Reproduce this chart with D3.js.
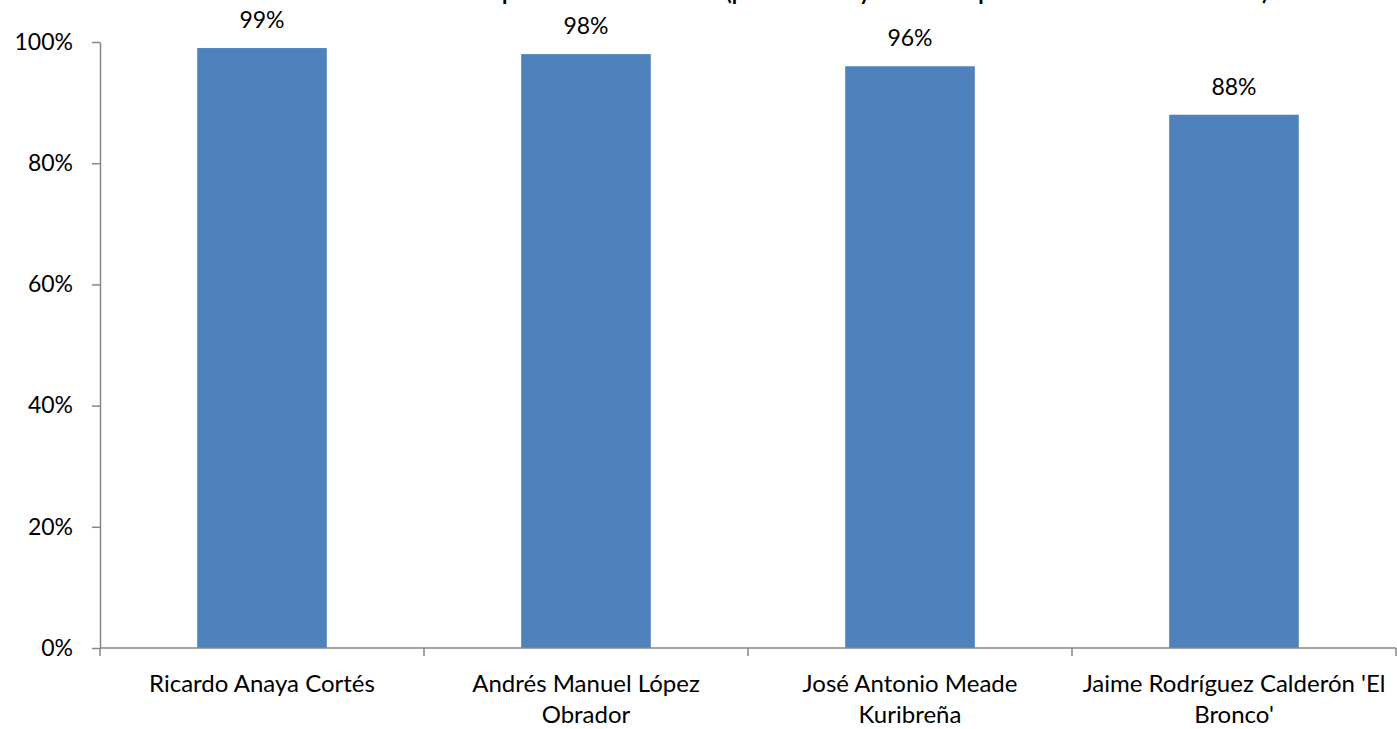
<!DOCTYPE html>
<html>
<head>
<meta charset="utf-8">
<script src="https://cdn.jsdelivr.net/npm/d3@7"></script>
<style>
  html, body { margin: 0; padding: 0; background: #fff; }
  svg { display: block; }
  text { font-family: Lato, "Open Sans", sans-serif; fill: #000; }
</style>
</head>
<body>
<svg id="chart" width="1397" height="729"></svg>
<script>
// ---- data ----
const categories = [
  "Ricardo Anaya Cortés",
  "Andrés Manuel López Obrador",
  "José Antonio Meade Kuribreña",
  "Jaime Rodríguez Calderón 'El Bronco'"
];
const categoryLines = [
  ["Ricardo Anaya Cortés"],
  ["Andrés Manuel López", "Obrador"],
  ["José Antonio Meade", "Kuribreña"],
  ["Jaime Rodríguez Calderón 'El", "Bronco'"]
];
const values = [0.99, 0.98, 0.96, 0.88];
const valueLabels = ["99%", "98%", "96%", "88%"];
const yTicks = [0, 0.2, 0.4, 0.6, 0.8, 1.0];
const yTickLabels = ["0%", "20%", "40%", "60%", "80%", "100%"];
const title = "Reconocimiento de candidatos a la presidencia de México (por votantes y el total de personas del electorado local)";

// ---- layout ----
const svg = d3.select("#chart");
const plotLeft = 100, plotRight = 1396, plotTop = 42, plotBottom = 648;
const axisColor = "#868686";
const barColor = "#4F81BD";

const x = d3.scaleBand()
  .domain(categories)
  .range([plotLeft, plotRight])
  .paddingInner(0.6)
  .paddingOuter(0.3);
const step = x.step();
const y = d3.scaleLinear().domain([0, 1]).range([plotBottom, plotTop]);

// title (cut off at top in the reference)
svg.append("text")
  .attr("x", 1268)
  .attr("y", 0)
  .attr("text-anchor", "end")
  .style("font-weight", "bold")
  .style("font-size", "22px")
  .text(title);

// bars
svg.selectAll("rect.bar")
  .data(values)
  .enter().append("rect")
  .attr("class", "bar")
  .attr("x", (d, i) => x(categories[i]))
  .attr("width", x.bandwidth())
  .attr("y", d => y(d))
  .attr("height", d => y(0) - y(d))
  .attr("fill", barColor);

// data labels
svg.selectAll("text.vlab")
  .data(values)
  .enter().append("text")
  .attr("class", "vlab")
  .attr("x", (d, i) => x(categories[i]) + x.bandwidth() / 2)
  .attr("y", d => y(d) - 20)
  .attr("text-anchor", "middle")
  .style("font-size", "23px")
  .text((d, i) => valueLabels[i]);

// y axis
const yAxis = d3.axisLeft(y)
  .tickValues(yTicks)
  .tickFormat((d, i) => yTickLabels[i])
  .tickSize(8)
  .tickPadding(19)
  .tickSizeOuter(0);
const gy = svg.append("g").attr("transform", `translate(${plotLeft},0)`).call(yAxis);
gy.select(".domain").attr("stroke", axisColor).attr("stroke-width", 1.5);
gy.selectAll(".tick line").attr("stroke", axisColor).attr("stroke-width", 1.5);
gy.selectAll(".tick text").style("font-size", "23px").style("font-family", "Lato, sans-serif").attr("fill", "#000");

// x axis line
const boundaries = categories.map(c => x(c) - x.paddingOuter() * step).concat([plotRight]);
svg.append("line")
  .attr("x1", plotLeft).attr("x2", plotRight)
  .attr("y1", y(0)).attr("y2", y(0))
  .attr("stroke", axisColor).attr("stroke-width", 1.5);
svg.selectAll("line.xtick")
  .data(boundaries)
  .enter().append("line")
  .attr("class", "xtick")
  .attr("x1", d => d).attr("x2", d => d)
  .attr("y1", y(0)).attr("y2", y(0) + 8)
  .attr("stroke", axisColor).attr("stroke-width", 1.5);

// category labels
const catG = svg.selectAll("text.clab")
  .data(categoryLines)
  .enter().append("text")
  .attr("class", "clab")
  .attr("text-anchor", "middle")
  .style("font-size", "24px")
  .attr("transform", (d, i) => `translate(${x(categories[i]) + x.bandwidth() / 2},692)`);
catG.selectAll("tspan")
  .data(d => d)
  .enter().append("tspan")
  .attr("x", 0)
  .attr("y", (d, j) => j * 31)
  .text(d => d);
</script>
</body>
</html>
